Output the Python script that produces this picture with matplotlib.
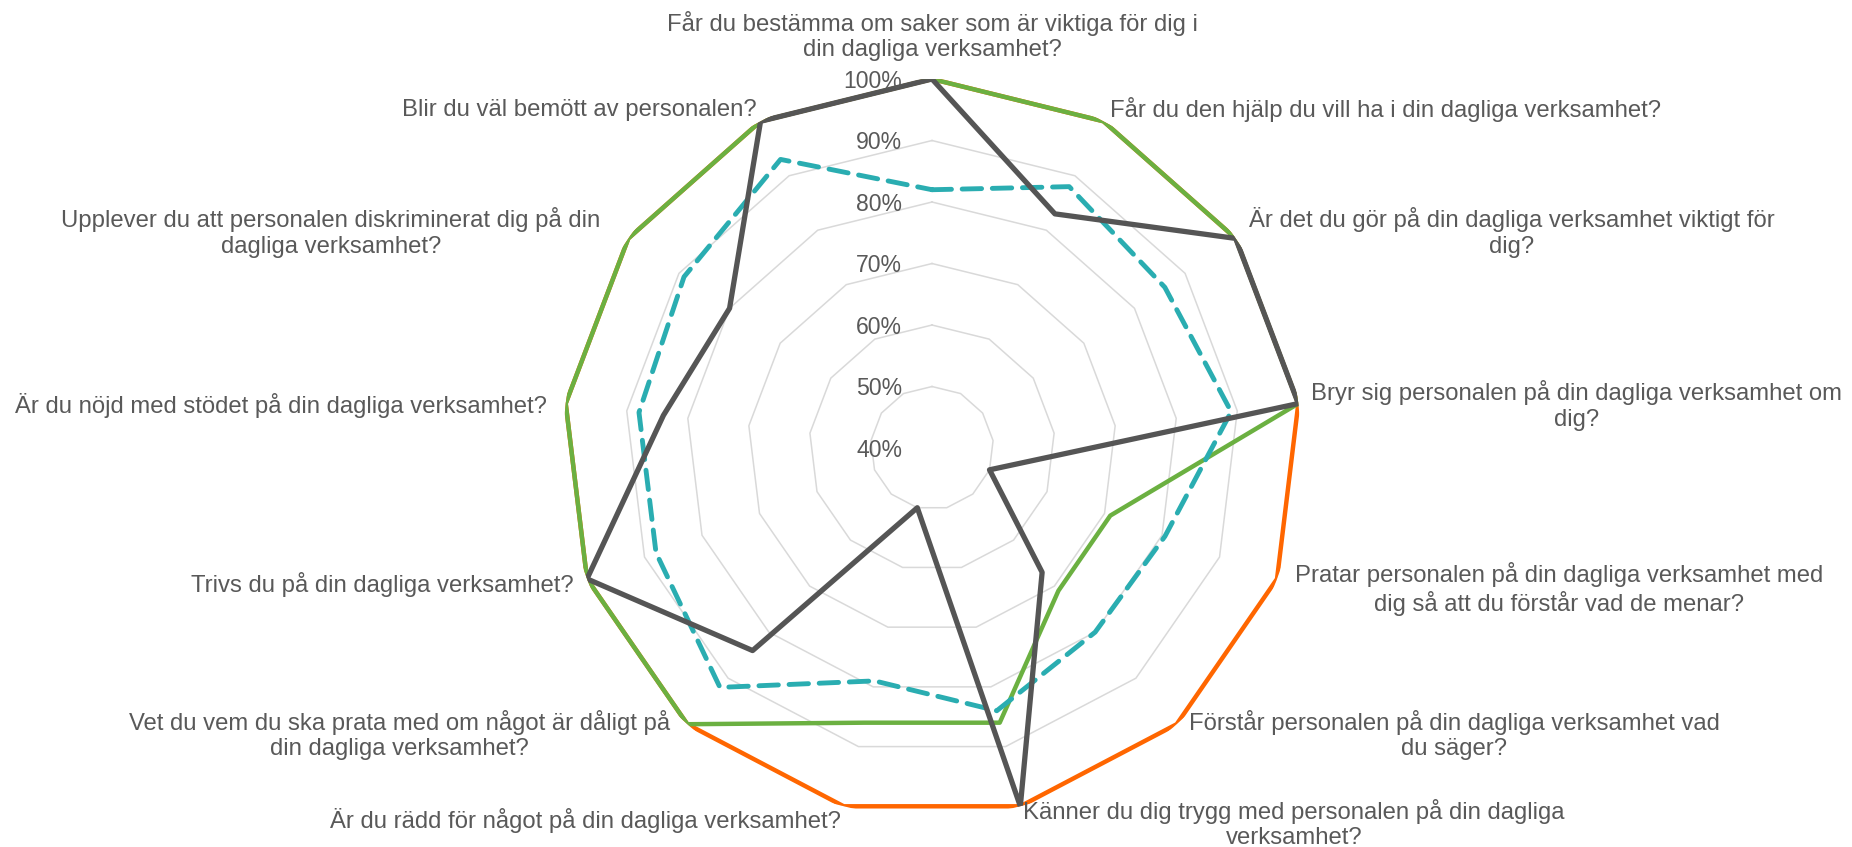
import numpy as np
import matplotlib
matplotlib.use('Agg')
import matplotlib.pyplot as plt

plt.rcParams['font.family'] = ['Liberation Sans', 'DejaVu Sans']

categories = [
    'Får du bestämma om saker som är viktiga för dig i\ndin dagliga verksamhet?',
    'Får du den hjälp du vill ha i din dagliga verksamhet?',
    'Är det du gör på din dagliga verksamhet viktigt för\ndig?',
    'Bryr sig personalen på din dagliga verksamhet om\ndig?',
    'Pratar personalen på din dagliga verksamhet med\ndig så att du förstår vad de menar?',
    'Förstår personalen på din dagliga verksamhet vad\ndu säger?',
    'Känner du dig trygg med personalen på din dagliga\nverksamhet?',
    'Är du rädd för något på din dagliga verksamhet?',
    'Vet du vem du ska prata med om något är dåligt på\ndin dagliga verksamhet?',
    'Trivs du på din dagliga verksamhet?',
    'Är du nöjd med stödet på din dagliga verksamhet?',
    'Upplever du att personalen diskriminerat dig på din\ndagliga verksamhet?',
    'Blir du väl bemött av personalen?',
]

orange_vals = [100, 100, 100, 100, 100, 100, 100, 100, 100, 100, 100, 100, 100]
green_vals = [100, 100, 100, 100, 71, 71, 86, 86, 100, 100, 100, 100, 100]
teal_vals = [82, 88, 86, 89, 80.5, 80, 84, 79, 92, 88, 88, 89, 93]
gray_vals = [100, 83, 100, 100, 50, 67, 100, 50, 84, 100, 84, 80, 100]

ring_levels = [50, 60, 70, 80, 90, 100]
tick_levels = [40, 50, 60, 70, 80, 90, 100]
tick_labels = ['40%', '50%', '60%', '70%', '80%', '90%', '100%']

# label offsets (pixels from the 100% vertex) and horizontal alignment
label_offsets = [(0, 43, 'center'), (7, 12, 'left'), (13, 6, 'left'), (13, -2, 'left'),
                 (18, -10, 'left'), (12, -11, 'left'), (3, -18, 'left'), (-3, -14, 'right'),
                 (-17, -11, 'right'), (-13, -6, 'right'), (-19, -2, 'right'), (-28, 6, 'right'),
                 (-4, 11, 'right')]

TEXT = '#595959'
n = len(categories)
theta = np.arange(n) * 2 * np.pi / n
theta_c = np.append(theta, theta[0])


def closed(v):
    return np.append(v, v[0])


fig = plt.figure(figsize=(18.52, 8.47), dpi=100)
ax = fig.add_axes([0.3040, 0.0354, 0.3985, 0.8713], projection='polar')
ax.set_theta_offset(np.pi / 2)
ax.set_theta_direction(-1)
ax.set_ylim(40, 100)
ax.grid(False)
ax.spines['polar'].set_visible(False)
ax.set_xticks([])
ax.set_yticks([])
ax.patch.set_alpha(0)

for lev in ring_levels:
    ax.plot(theta_c, [lev] * (n + 1), color='#D9D9D9', lw=1.1, zorder=1)

ax.plot(theta_c, closed(orange_vals), color='#FF6600', lw=3.2, zorder=2)
ax.plot(theta_c, closed(green_vals), color='#6BB041', lw=3.2, zorder=3)
ax.plot(theta_c, closed(teal_vals), color='#2AADB1', lw=3.5, ls=(0, (4.0, 2.2)),
        dash_capstyle='round', zorder=4)
ax.plot(theta_c, closed(gray_vals), color='#555555', lw=3.8, zorder=5)

px = 0.72  # points per pixel at dpi 100
for lev, lab in zip(tick_levels, tick_labels):
    ax.annotate(lab, xy=(0, lev), xytext=(-30 * px, -2 * px), textcoords='offset points',
                ha='right', va='center', fontsize=16.6, color=TEXT, zorder=6)

for t, lab, (dx, dy, ha) in zip(theta, categories, label_offsets):
    ax.annotate(lab, xy=(t, 100), xytext=(dx * px, dy * px), textcoords='offset points',
                ha=ha, va='center', multialignment='center', fontsize=17.2, color=TEXT,
                annotation_clip=False)

fig.savefig('out.png', dpi=100, facecolor='white')
